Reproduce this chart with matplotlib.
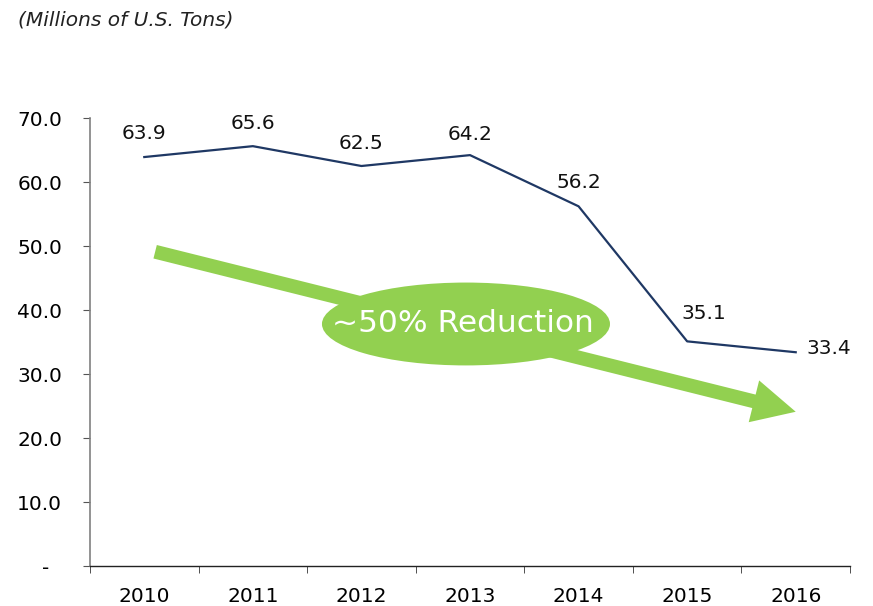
import numpy as np
import matplotlib
matplotlib.use("Agg")
import matplotlib.pyplot as plt
from matplotlib.patches import Ellipse

# Dati: milioni di tonnellate per anno
years = ["2010", "2011", "2012", "2013", "2014", "2015", "2016"]
tons = [63.9, 65.6, 62.5, 64.2, 56.2, 35.1, 33.4]
y_ticks = [0, 10, 20, 30, 40, 50, 60, 70]
y_labels = ["-  ", "10.0", "20.0", "30.0", "40.0", "50.0", "60.0", "70.0"]

# spostamento delle etichette (punti): sopra, tranne le ultime due
label_off = [(0, 17), (0, 16), (0, 16), (0, 15), (0, 17), (12, 20), (24, 3)]

plt.rcParams["font.family"] = ["DejaVu Sans"]

fig = plt.figure(figsize=(8.73, 6.06), dpi=100)
ax = fig.add_axes([90/873, 1-566/606, 760/873, 448/606])

x = np.arange(len(years))
ax.plot(x, tons, color="#1f3864", lw=1.6, zorder=3)

for i, v in enumerate(tons):
    dx, dy = label_off[i]
    ax.annotate(f"{v:.1f}", (x[i], v), xytext=(dx, dy), textcoords="offset points",
                ha="center", va="center", fontsize=14.5, color="#111111")

ax.set_xlim(-0.5, len(years) - 0.5)
ax.set_ylim(0, 70)

ax.set_xticks(x)
ax.set_xticklabels(years, fontsize=14.5)
ax.set_xticks(np.arange(-0.5, len(years)), minor=True)
ax.tick_params(axis="x", which="major", length=0, pad=15)
ax.tick_params(axis="x", which="minor", length=5, direction="out", color="#333333")

ax.set_yticks(y_ticks)
ax.set_yticklabels(y_labels, fontsize=14.5)
ax.tick_params(axis="y", length=5, direction="out", pad=15, color="#555555")

for s in ["top", "right"]:
    ax.spines[s].set_visible(False)
ax.spines["left"].set_color("#808080")
ax.spines["left"].set_linewidth(1.2)
ax.spines["bottom"].set_color("#222222")
ax.spines["bottom"].set_linewidth(1.0)

# Freccia verde
green = "#92d050"
ax.annotate("", xy=(6.0, 24.1), xytext=(0.1, 49.1),
            arrowprops=dict(arrowstyle="simple,head_length=3.1,head_width=3.1,tail_width=1.0",
                            mutation_scale=10, color=green, lw=0,
                            shrinkA=0, shrinkB=0), zorder=1)

# Ellisse con testo
ell = Ellipse((0.4947, 0.5402), 0.379, 0.185, transform=ax.transAxes,
              facecolor=green, edgecolor="none", zorder=2)
ax.add_patch(ell)
ax.text(0.490, 0.5402, "~50% Reduction", transform=ax.transAxes, ha="center",
        va="center", fontsize=22.5, color="white", zorder=4)

fig.text(18/873, 1-20/606, "(Millions of U.S. Tons)", fontsize=14.5, style="italic",
         ha="left", va="center", color="#222222")

fig.savefig("out.png", dpi=100)
